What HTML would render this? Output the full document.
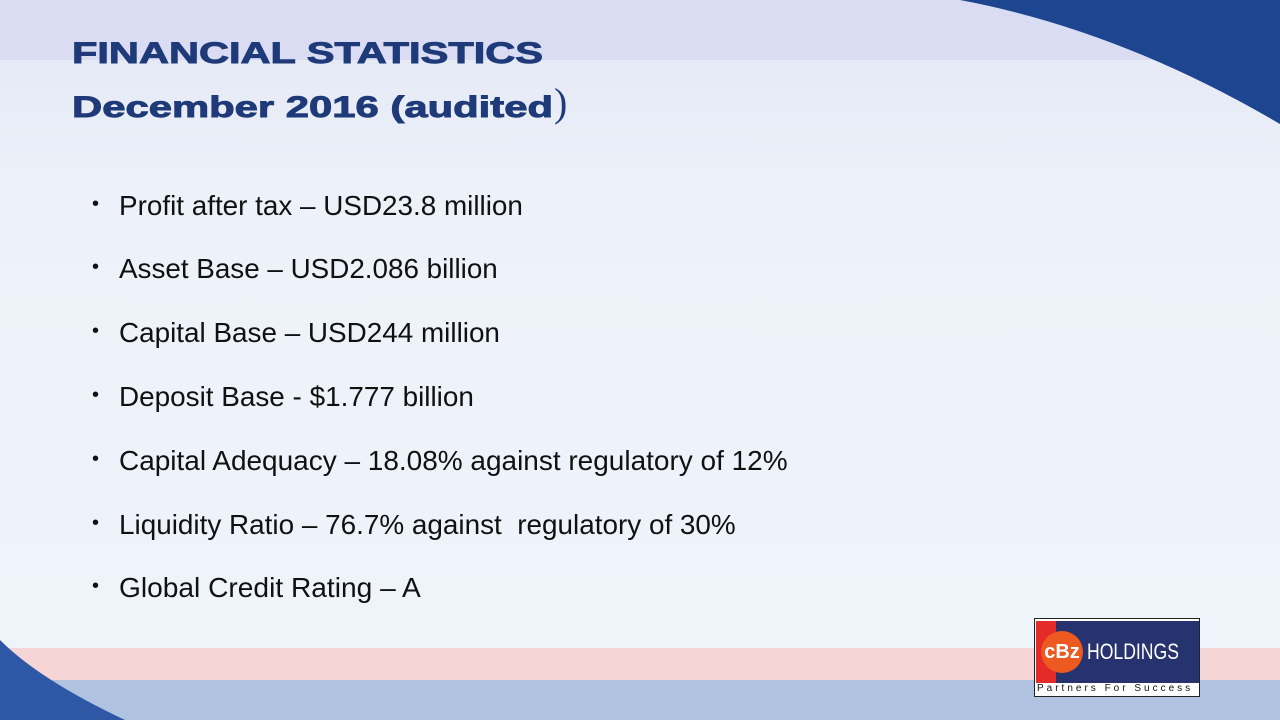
<!DOCTYPE html>
<html><head><meta charset="utf-8"><style>
body{margin:0;width:1280px;height:720px;overflow:hidden;font-family:"Liberation Sans",Arial,Helvetica,sans-serif;}
#slide{position:relative;width:1280px;height:720px;background:linear-gradient(#e6eaf5 60px,#edf1f9 200px,#eff3fa 640px);overflow:hidden}
.abs{position:absolute}
.t{position:absolute;left:72px;margin:0;font-size:30px;font-weight:900;color:#1e3a78;white-space:nowrap;font-family:"Liberation Sans",Arial,sans-serif;line-height:1;-webkit-text-stroke:0.9px #1e3a78}
.b{position:absolute;left:92px;font-size:24px;color:#111;white-space:nowrap;line-height:1;font-family:"Liberation Sans",Arial,sans-serif}
.b span{position:absolute;left:0;font-size:20px;top:2px}
.b em{font-style:normal;position:absolute;left:27px;top:0}
</style></head><body>
<div id="slide">
<div class="abs" style="left:0;top:0;width:1280px;height:60px;background:#d9dcf2"></div>
<svg class="abs" style="left:0;top:0" width="1280" height="720">
<path d="M960 0 Q1120 30 1280 124 L1280 0 Z" fill="#1d4590"/>
<rect x="0" y="648" width="1280" height="32" fill="#f6d5d6"/>
<rect x="0" y="680" width="1280" height="40" fill="#afc3e1"/>
<path d="M0 640 Q40 680 125 720 L0 720 Z" fill="#2e58a6"/>
</svg>
<div class="t" style="top:39px"><em style="font-style:normal" data-sx="471">FINANCIAL STATISTICS</em></div>
<div class="t" style="top:93px"><em style="font-style:normal" data-sx="481">December 2016 (audited</em><span style="font-weight:normal;-webkit-text-stroke:0;font-family:'Liberation Serif',serif;font-size:40px;position:absolute;left:482px;top:-10px">)</span></div>
<div class="b" style="top:192px"><span>•</span><em data-w="404">Profit after tax – USD23.8 million</em></div>
<div class="b" style="top:255px"><span>•</span><em data-w="379">Asset Base – USD2.086 billion</em></div>
<div class="b" style="top:319px"><span>•</span><em data-w="381">Capital Base – USD244 million</em></div>
<div class="b" style="top:383px"><span>•</span><em data-w="355">Deposit Base - $1.777 billion</em></div>
<div class="b" style="top:447px"><span>•</span><em data-w="669">Capital Adequacy – 18.08% against regulatory of 12%</em></div>
<div class="b" style="top:511px"><span>•</span><em data-w="617">Liquidity Ratio – 76.7% against &nbsp;regulatory of 30%</em></div>
<div class="b" style="top:574px"><span>•</span><em data-w="302">Global Credit Rating – A</em></div>
<div class="abs" style="left:1034px;top:618px;width:166px;height:79px;background:#fff;border:1px solid #222;box-sizing:border-box">
<div class="abs" style="left:1px;top:2px;width:163px;height:62px;background:#27336e"></div>
<div class="abs" style="left:1px;top:2px;width:20px;height:62px;background:#e52a2a"></div>
<div class="abs" style="left:6px;top:12px;width:42px;height:42px;border-radius:50%;background:#ec5a22;color:#fff;font-weight:bold;font-size:20px;line-height:42px;text-align:center">cBz</div>
<div class="abs" style="left:52px;top:20px;color:#fff;font-size:22px;transform:scaleX(0.8);transform-origin:left;letter-spacing:0">HOLDINGS</div>
<div class="abs" style="left:2px;top:64px;font-size:10px;letter-spacing:3px;color:#111;white-space:nowrap">Partners For Success</div>
</div>
</div>
<script>
document.querySelectorAll('[data-w]').forEach(function(el){
  el.style.display='inline-block';
  var w=el.getBoundingClientRect().width;
  var t=parseFloat(el.getAttribute('data-w'));
  var fs=parseFloat(getComputedStyle(el).fontSize);
  if(w>0) el.style.fontSize=(fs*t/w)+'px';
});
document.querySelectorAll('[data-sx]').forEach(function(el){
  el.style.display='inline-block';
  el.style.transformOrigin='left top';
  var w=el.getBoundingClientRect().width;
  var t=parseFloat(el.getAttribute('data-sx'));
  if(w>0) el.style.transform='scaleX('+(t/w)+')';
});
</script>
</body></html>
